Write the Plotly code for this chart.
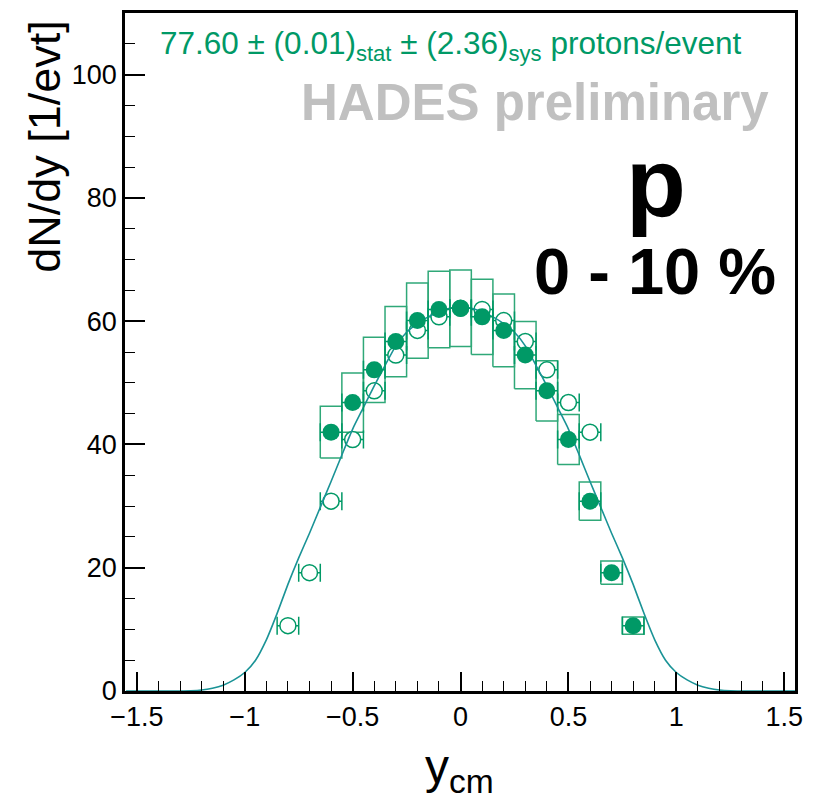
import plotly.graph_objects as go

# ---------------- data ----------------
# measured (filled) points
y_meas = [-0.6, -0.5, -0.4, -0.3, -0.2, -0.1, 0.0, 0.1, 0.2, 0.3, 0.4, 0.5, 0.6, 0.7, 0.8]
dndy_meas = [42.0, 46.8, 52.1, 56.7, 60.1, 61.9, 62.1, 60.7, 58.5, 54.5, 48.7, 40.8, 30.8, 19.2, 10.6]
sys_meas = [4.2, 4.8, 5.3, 5.7, 6.1, 6.2, 6.2, 6.1, 5.9, 5.45, 4.9, 4.05, 3.1, 1.9, 1.4]
xerr_half = 0.05

# reflected (open) points
y_refl = [-0.8, -0.7, -0.6, -0.5, -0.4, -0.3, -0.2, -0.1, 0.0, 0.1, 0.2, 0.3, 0.4, 0.5, 0.6]
dndy_refl = [10.6, 19.2, 30.8, 40.8, 48.7, 54.5, 58.5, 60.7, 62.1, 61.9, 60.1, 56.7, 52.1, 46.8, 42.0]

# model curve
y_model = [-1.55, -1.5, -1.45, -1.4, -1.35, -1.3, -1.25, -1.2, -1.15, -1.1, -1.05, -1.0,
           -0.95, -0.9, -0.85, -0.8, -0.75, -0.7, -0.65, -0.6, -0.55, -0.5, -0.45, -0.4,
           -0.35, -0.3, -0.25, -0.2, -0.15, -0.1, -0.05, 0.0, 0.05, 0.1, 0.15, 0.2, 0.25,
           0.3, 0.35, 0.4, 0.45, 0.5, 0.55, 0.6, 0.65, 0.7, 0.75, 0.8, 0.85, 0.9, 0.95,
           1.0, 1.05, 1.1, 1.15, 1.2, 1.25, 1.3, 1.35, 1.4, 1.45, 1.5, 1.55]
dndy_model = [0, 0, 0, 0, 0, 0, 0.03, 0.15, 0.45, 0.95, 1.8, 3.0,
              5.0, 8.3, 12.6, 17.3, 21.6, 25.6, 29.8, 34.0, 38.3, 42.5, 46.0, 49.5,
              52.8, 56.0, 58.2, 59.6, 60.7, 61.5, 62.1, 62.3, 62.1, 61.5, 60.7, 59.6, 58.2,
              56.0, 52.8, 49.5, 46.0, 42.5, 38.3, 34.0, 29.8, 25.6, 21.6, 17.3, 12.6, 8.3, 5.0,
              3.0, 1.8, 0.95, 0.45, 0.15, 0.03, 0, 0, 0, 0, 0, 0]

x_ticks = [-1.5, -1.0, -0.5, 0.0, 0.5, 1.0, 1.5]
y_ticks = [0, 20, 40, 60, 80, 100]

# ---------------- styles ----------------
GREEN = "#009966"
BOXGREEN = "#2fa878"
TEAL = "#1a9396"
FONT = "Liberation Sans, Arial, Helvetica, sans-serif"

fig = go.Figure()

# systematic boxes built from the data
bx, by = [], []
for x, v, s in zip(y_meas, dndy_meas, sys_meas):
    x0, x1 = x - xerr_half, x + xerr_half
    bx += [x0, x1, x1, x0, x0, None]
    by += [v - s, v - s, v + s, v + s, v - s, None]
fig.add_trace(go.Scatter(x=bx, y=by, mode="lines", line=dict(color=BOXGREEN, width=1.5),
                         hoverinfo="skip", showlegend=False))

# reflected points (open)
fig.add_trace(go.Scatter(
    x=y_refl, y=dndy_refl, mode="markers",
    marker=dict(symbol="circle", size=16, color="white", line=dict(color=GREEN, width=1.5)),
    error_x=dict(type="constant", value=xerr_half, color=GREEN, thickness=1.5, width=9),
    showlegend=False))

# model curve
fig.add_trace(go.Scatter(x=y_model, y=dndy_model, mode="lines",
                         line=dict(color=TEAL, width=1.6, shape="spline", smoothing=0.6),
                         showlegend=False))

# measured points (filled)
fig.add_trace(go.Scatter(
    x=y_meas, y=dndy_meas, mode="markers",
    marker=dict(symbol="circle", size=17, color=GREEN),
    error_x=dict(type="constant", value=xerr_half, color=GREEN, thickness=1.5, width=9),
    showlegend=False))

axis_common = dict(
    showgrid=False, zeroline=False, showline=True, linecolor="black", linewidth=2.5,
    mirror=True, ticks="inside", tickcolor="black", tickwidth=1.5,
    tickfont=dict(family=FONT, size=27, color="black"),
)

fig.update_xaxes(range=[-1.555, 1.55], tickvals=x_ticks, ticklen=19,
                 minor=dict(dtick=0.1, tick0=0, ticks="inside", ticklen=10,
                            tickcolor="black", tickwidth=1.2),
                 **axis_common)
fig.update_yaxes(range=[0, 110], tickvals=y_ticks, ticklen=20,
                 minor=dict(dtick=5, tick0=0, ticks="inside", ticklen=10,
                            tickcolor="black", tickwidth=1.2),
                 **axis_common)

annotations = [
    dict(text="77.60 ± (0.01)<sub>stat</sub> ± (2.36)<sub>sys</sub> protons/event",
         x=158, y=45, xanchor="left", yanchor="middle",
         font=dict(family=FONT, size=31.5, color=GREEN)),
    dict(text="<b>HADES preliminary</b>", x=779, y=102, xanchor="right", yanchor="middle",
         font=dict(family=FONT, size=51, color="#c0c0c0")),
    dict(text="<b>p</b>", x=662, y=182, xanchor="center", yanchor="middle",
         font=dict(family=FONT, size=98, color="black")),
    dict(text="<b>0 - 10 %</b>", x=786, y=271, xanchor="right", yanchor="middle",
         font=dict(family=FONT, size=65, color="black")),
    dict(text="dN/dy [1/evt]", x=44, y=145, xanchor="center", yanchor="middle",
         textangle=-90, font=dict(family=FONT, size=45, color="black")),
    dict(text="y<sub>cm</sub>", x=463, y=770, xanchor="center", yanchor="middle",
         font=dict(family=FONT, size=48, color="black")),
]
W, H = 813, 801
pl, pr, pt, pb = 125, 10, 12, 110
pw, ph = W - pl - pr, H - pt - pb
for a in annotations:
    a["x"] = (a["x"] - pl) / pw
    a["y"] = 1 - (a["y"] - pt) / ph
    a.update(xref="paper", yref="paper", showarrow=False)

fig.update_layout(
    width=W, height=H,
    margin=dict(l=pl, r=pr, t=pt, b=pb),
    plot_bgcolor="white", paper_bgcolor="white",
    annotations=annotations,
)

fig.write_html("out.html")
